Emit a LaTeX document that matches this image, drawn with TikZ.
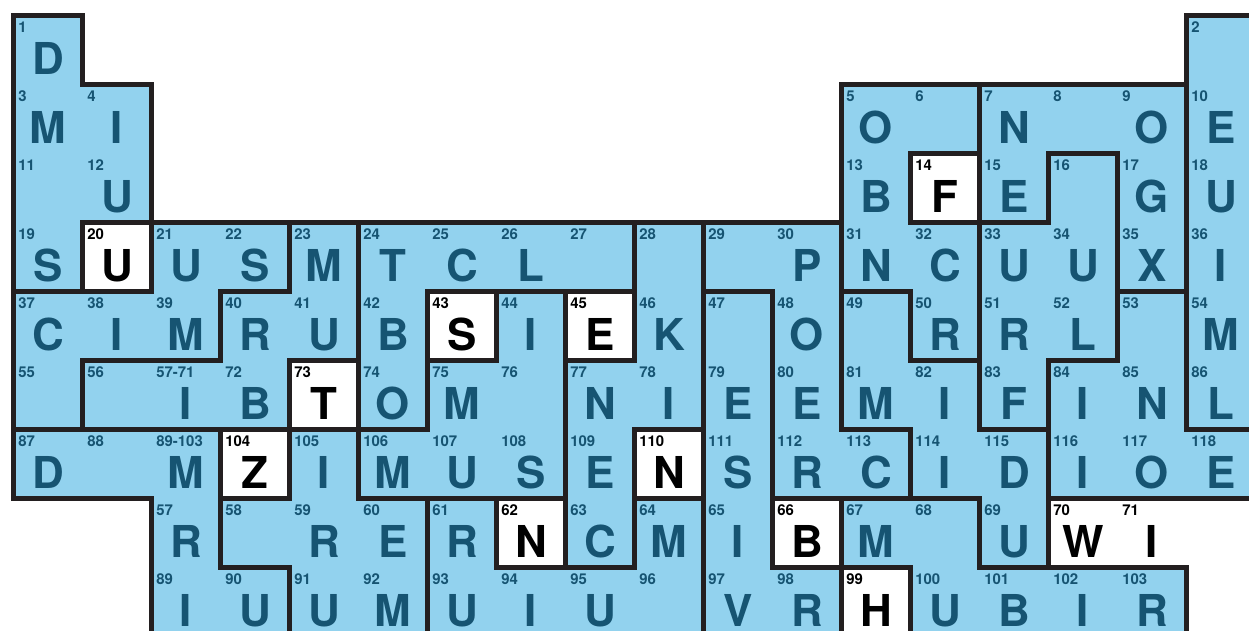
\documentclass[tikz,border=0pt]{standalone}
\usepackage{fontspec}
\setmainfont{TeX Gyre Heros}
\definecolor{sky}{RGB}{146,210,238}
\definecolor{navy}{RGB}{22,84,114}
\definecolor{ink}{RGB}{35,31,32}
\tikzset{
  wall/.style={draw=ink,line width=2.7pt,line join=miter},
  num/.style={anchor=north west,inner sep=0pt,text=#1,
    font=\fontsize{8.5}{8.5}\selectfont\bfseries},
  num/.default=navy,
  letter/.style={anchor=base,inner sep=0pt,text=#1,
    font=\fontsize{25}{25}\selectfont\bfseries},
  letter/.default=navy,
}

\begin{document}
\begin{tikzpicture}[x=1.38cm,y=-1.38cm]
  \useasboundingbox (-0.196,-0.225) rectangle (17.906,8.920);
  \clip (-0.196,-0.225) rectangle (17.906,8.920);
  % table body
  \fill[sky] (0,0) -- (1,0) -- (1,1) -- (2,1) -- (2,3) -- (12,3) -- (12,1) -- (17,1)
    -- (17,0) -- (18,0) -- (18,7) -- (17,7) -- (17,9) -- (2,9) -- (2,7) -- (0,7) -- cycle;
  \fill[white] (15,7) rectangle (17,8);
  \foreach \col/\row in {14/3,2/4,7/5,9/5,5/6,4/7,10/7,8/8,12/8,13/9}
    \fill[white] (\col-1,\row-1) rectangle (\col,\row);
  % word groups
  \draw[wall] (0,0) -- (1,0) -- (1,1) -- (2,1) -- (2,3) -- (1,3) -- (1,4) -- (0,4) -- cycle;
  \draw[wall] (2,3) -- (4,3) -- (4,4) -- (3,4) -- (3,5) -- (1,5) -- (1,6) -- (0,6) -- (0,4) -- (2,4) -- cycle;
  \draw[wall] (4,3) -- (5,3) -- (5,5) -- (4,5) -- (4,6) -- (1,6) -- (1,5) -- (3,5) -- (3,4) -- (4,4) -- cycle;
  \draw[wall] (5,3) -- (9,3) -- (9,4) -- (6,4) -- (6,6) -- (5,6) -- cycle;
  \draw[wall] (7,4) -- (8,4) -- (8,7) -- (5,7) -- (5,6) -- (6,6) -- (6,5) -- (7,5) -- cycle;
  \draw[wall] (9,3) -- (10,3) -- (10,6) -- (9,6) -- (9,8) -- (8,8) -- (8,5) -- (9,5) -- cycle;
  \draw[wall] (6,7) -- (7,7) -- (7,8) -- (9,8) -- (9,7) -- (10,7) -- (10,9) -- (6,9) -- cycle;
  \draw[wall] (10,4) -- (11,4) -- (11,8) -- (12,8) -- (12,9) -- (10,9) -- cycle;
  \draw[wall] (10,3) -- (12,3) -- (12,6) -- (13,6) -- (13,7) -- (11,7) -- (11,4) -- (10,4) -- cycle;
  \draw[wall] (12,1) -- (14,1) -- (14,2) -- (13,2) -- (13,3) -- (14,3) -- (14,5) -- (13,5) -- (13,4) -- (12,4) -- cycle;
  \draw[wall] (15,2) -- (16,2) -- (16,5) -- (15,5) -- (15,6) -- (14,6) -- (14,3) -- (15,3) -- cycle;
  \draw[wall] (14,1) -- (17,1) -- (17,4) -- (16,4) -- (16,2) -- (15,2) -- (15,3) -- (14,3) -- cycle;
  \draw[wall] (17,0) rectangle (18,6);
  \draw[wall] (16,4) -- (17,4) -- (17,6) -- (18,6) -- (18,7) -- (15,7) -- (15,5) -- (16,5) -- cycle;
  \draw[wall] (12,4) -- (13,4) -- (13,5) -- (14,5) -- (14,6) -- (15,6) -- (15,8) -- (14,8) -- (14,7)
    -- (13,7) -- (13,6) -- (12,6) -- cycle;
  \draw[wall] (12,7) -- (14,7) -- (14,8) -- (17,8) -- (17,9) -- (13,9) -- (13,8) -- (12,8) -- cycle;
  \draw[wall] (0,6) -- (3,6) -- (3,8) -- (4,8) -- (4,9) -- (2,9) -- (2,7) -- (0,7) -- cycle;
  \draw[wall] (4,6) -- (5,6) -- (5,7) -- (6,7) -- (6,9) -- (4,9) -- (4,8) -- (3,8) -- (3,7) -- (4,7) -- cycle;
  \foreach \col/\row in {14/3,2/4,7/5,9/5,5/6,4/7,10/7,8/8,12/8,13/9}
    \draw[wall] (\col-1,\row-1) rectangle (\col,\row);
  % numbers and letters
  \foreach \col/\row/\nr/\chr in {1/1/1/D,18/1/2/{},
      1/2/3/M,2/2/4/I,13/2/5/O,14/2/6/{},15/2/7/N,16/2/8/{},17/2/9/O,18/2/10/E,
      1/3/11/{},2/3/12/U,13/3/13/B,15/3/15/E,16/3/16/{},17/3/17/G,18/3/18/U,
      1/4/19/S,3/4/21/U,4/4/22/S,5/4/23/M,6/4/24/T,7/4/25/C,8/4/26/L,9/4/27/{},
      10/4/28/{},11/4/29/{},12/4/30/P,13/4/31/N,14/4/32/C,15/4/33/U,16/4/34/U,17/4/35/X,18/4/36/I,
      1/5/37/C,2/5/38/I,3/5/39/M,4/5/40/R,5/5/41/U,6/5/42/B,8/5/44/I,10/5/46/K,11/5/47/{},
      12/5/48/O,13/5/49/{},14/5/50/R,15/5/51/R,16/5/52/L,17/5/53/{},18/5/54/M,
      1/6/55/{},2/6/56/{},3/6/57-71/I,4/6/72/B,6/6/74/O,7/6/75/M,8/6/76/{},9/6/77/N,10/6/78/I,
      11/6/79/E,12/6/80/E,13/6/81/M,14/6/82/I,15/6/83/F,16/6/84/I,17/6/85/N,18/6/86/L,
      1/7/87/D,2/7/88/{},3/7/89-103/M,5/7/105/I,6/7/106/M,7/7/107/U,8/7/108/S,9/7/109/E,
      11/7/111/S,12/7/112/R,13/7/113/C,14/7/114/I,15/7/115/D,16/7/116/I,17/7/117/O,18/7/118/E,
      3/8/57/R,4/8/58/{},5/8/59/R,6/8/60/E,7/8/61/R,9/8/63/C,10/8/64/M,11/8/65/I,
      13/8/67/M,14/8/68/{},15/8/69/U,
      3/9/89/I,4/9/90/U,5/9/91/U,6/9/92/M,7/9/93/U,8/9/94/I,9/9/95/U,10/9/96/{},
      11/9/97/V,12/9/98/R,14/9/100/U,15/9/101/B,16/9/102/I,17/9/103/R}{
    \node[num] (n\row-\col) at (\col-0.935,\row-0.91) {\nr};
    \node[letter] (l\row-\col) at (\col-0.5,\row-0.145) {\chr};
  }
  \foreach \col/\row/\nr/\chr in {14/3/14/F,2/4/20/U,7/5/43/S,9/5/45/E,5/6/73/T,4/7/104/Z,
      10/7/110/N,8/8/62/N,12/8/66/B,13/9/99/H,16/8/70/W,17/8/71/I}{
    \node[num=black] (n\row-\col) at (\col-0.935,\row-0.91) {\nr};
    \node[letter=black] (l\row-\col) at (\col-0.5,\row-0.145) {\chr};
  }
\end{tikzpicture}
\end{document}
